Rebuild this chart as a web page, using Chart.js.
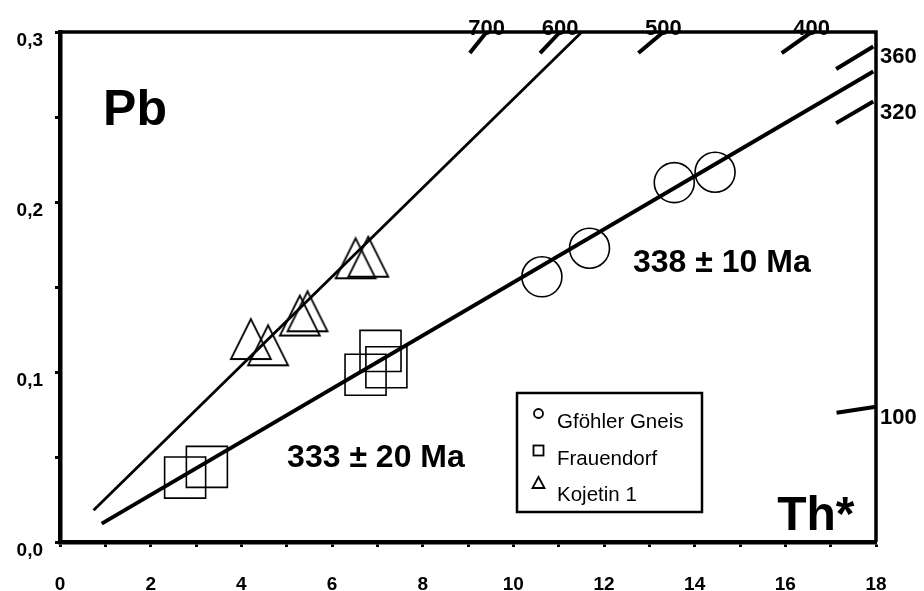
<!DOCTYPE html>
<html>
<head>
<meta charset="utf-8">
<script src="https://cdn.jsdelivr.net/npm/chart.js@4.4.1/dist/chart.umd.min.js"></script>
<style>
    body { margin: 0; background: #fff; }
</style>
</head>
<body>
<canvas id="pb-th-chart" width="924" height="591"></canvas>
<script>
// sample names and measured points (Th* vs Pb)
const seriesNames = ['Gföhler Gneis', 'Frauendorf', 'Kojetin 1'];
const gfohlerX = [10.63, 11.68, 13.55, 14.45];
const gfohlerY = [0.156, 0.1728, 0.2114, 0.2175];
const frauendorfX = [2.76, 3.24, 6.74, 7.07, 7.20];
const frauendorfY = [0.0379, 0.0442, 0.0984, 0.1124, 0.1028];
const kojetinX = [4.21, 4.59, 5.29, 5.46, 6.52, 6.80];
const kojetinY = [0.1194, 0.1157, 0.1332, 0.1357, 0.1669, 0.1678];

// isochron lines (end points)
const isoUpperX = [0.74, 11.51];
const isoUpperY = [0.0187, 0.3];
const isoLowerX = [0.92, 17.94];
const isoLowerY = [0.0108, 0.2768];
const isoLabels = ['333 ± 20 Ma', '338 ± 10 Ma'];

// age reference ticks on the frame
const ageLabels = ['700', '600', '500', '400', '360', '320', '100'];
const ageX0 = [9.04, 10.59, 12.76, 15.92, 17.12, 17.12, 17.13];
const ageY0 = [0.2876, 0.2876, 0.2876, 0.2876, 0.2782, 0.2464, 0.0760];
const ageX1 = [9.41, 11.03, 13.31, 16.58, 17.94, 17.94, 18];
const ageY1 = [0.3, 0.3, 0.3, 0.3, 0.2915, 0.2591, 0.0795];

const xTickLabels = ['0', '2', '4', '6', '8', '10', '12', '14', '16', '18'];
const yTickLabels = ['0,0', '0,1', '0,2', '0,3'];

function pts(xs, ys) {
    return xs.map((x, i) => ({x: x, y: ys[i]}));
}

// open triangle marker, a bit taller than the built-in one
function makeTriangle(size, lw) {
    const c = document.createElement('canvas');
    c.width = size + 4;
    c.height = size + 4;
    const g = c.getContext('2d');
    g.strokeStyle = '#000';
    g.lineWidth = lw;
    g.lineJoin = 'miter';
    g.beginPath();
    g.moveTo(c.width / 2, 2);
    g.lineTo(2, size + 2);
    g.lineTo(size + 2, size + 2);
    g.closePath();
    g.stroke();
    return c;
}
const triMarker = makeTriangle(40, 1.8);

const datasets = [
    {
        label: seriesNames[0],
        data: pts(gfohlerX, gfohlerY),
        pointStyle: 'circle',
        pointRadius: 20,
        pointBorderWidth: 1.6,
        borderColor: '#000',
        backgroundColor: 'rgba(0,0,0,0)'
    },
    {
        label: seriesNames[1],
        data: pts(frauendorfX, frauendorfY),
        pointStyle: 'rect',
        pointRadius: 29,
        pointBorderWidth: 1.6,
        borderColor: '#000',
        backgroundColor: 'rgba(0,0,0,0)'
    },
    {
        label: seriesNames[2],
        data: pts(kojetinX, kojetinY),
        pointStyle: triMarker,
        pointRadius: 22,
        borderColor: '#000',
        backgroundColor: 'rgba(0,0,0,0)'
    },
    {
        label: 'iso-upper',
        data: pts(isoUpperX, isoUpperY),
        showLine: true,
        pointRadius: 0,
        borderColor: '#000',
        borderWidth: 2.8
    },
    {
        label: 'iso-lower',
        data: pts(isoLowerX, isoLowerY),
        showLine: true,
        pointRadius: 0,
        borderColor: '#000',
        borderWidth: 4
    }
];

for (let i = 0; i < ageLabels.length; i++) {
    datasets.push({
        label: 'age-' + ageLabels[i],
        data: [{x: ageX0[i], y: ageY0[i]}, {x: ageX1[i], y: ageY1[i]}],
        showLine: true,
        pointRadius: 0,
        borderColor: '#000',
        borderWidth: 4,
        clip: 6
    });
}

const textPlugin = {
    id: 'textPlugin',
    afterDatasetsDraw(chart) {
        const ctx = chart.ctx;
        const area = chart.chartArea;
        const xs = chart.scales.x;
        const ys = chart.scales.y;
        ctx.save();

        // top and right frame
        ctx.strokeStyle = '#000';
        ctx.lineWidth = 3.5;
        ctx.beginPath();
        ctx.moveTo(area.left, area.top);
        ctx.lineTo(area.right, area.top);
        ctx.lineTo(area.right, area.bottom);
        ctx.stroke();

        ctx.fillStyle = '#000';
        const fam = '"Liberation Sans", Arial, sans-serif';

        // age labels at the tick ends
        ctx.font = 'bold 22px ' + fam;
        for (let i = 0; i < ageLabels.length; i++) {
            const px = xs.getPixelForValue(ageX1[i]);
            const py = ys.getPixelForValue(ageY1[i]);
            if (ageY1[i] >= 0.3) {
                ctx.textAlign = 'center';
                ctx.textBaseline = 'alphabetic';
                ctx.fillText(ageLabels[i], px, py + 3);
            } else {
                ctx.textAlign = 'left';
                ctx.textBaseline = 'alphabetic';
                ctx.fillText(ageLabels[i], area.right + 4, py + 17);
            }
        }

        // axis names and isochron ages
        ctx.textAlign = 'left';
        ctx.textBaseline = 'alphabetic';
        ctx.font = 'bold 50px ' + fam;
        ctx.fillText('Pb', xs.getPixelForValue(0.95), ys.getPixelForValue(0.2454));
        ctx.font = 'bold 48px ' + fam;
        ctx.fillText('Th*', xs.getPixelForValue(15.82), ys.getPixelForValue(0.0069));
        ctx.font = 'bold 32px ' + fam;
        ctx.fillText(isoLabels[0], xs.getPixelForValue(5.01), ys.getPixelForValue(0.044));
        ctx.fillText(isoLabels[1], xs.getPixelForValue(12.64), ys.getPixelForValue(0.1588));

        // legend box
        const lx = 517, ly = 393, lw = 185, lh = 119;
        ctx.lineWidth = 2.5;
        ctx.strokeRect(lx, ly, lw, lh);
        ctx.lineWidth = 1.8;
        const sx = 538.5;
        ctx.beginPath();
        ctx.arc(sx, 413.5, 4.5, 0, Math.PI * 2);
        ctx.stroke();
        ctx.strokeRect(sx - 5, 445.5, 10, 10);
        ctx.beginPath();
        ctx.moveTo(sx, 477);
        ctx.lineTo(sx - 6, 488);
        ctx.lineTo(sx + 6, 488);
        ctx.closePath();
        ctx.stroke();

        ctx.font = '20.5px ' + fam;
        ctx.fillText(seriesNames[0], 557, 428);
        ctx.fillText(seriesNames[1], 557, 465);
        ctx.fillText(seriesNames[2], 557, 501);
        ctx.restore();
    }
};

const config = {
    type: 'scatter',
    data: {datasets: datasets},
    options: {
        responsive: false,
        animation: false,
        events: [],
        layout: {padding: {top: 32, right: 48, left: 0, bottom: 0}},
        plugins: {
            legend: {display: false},
            tooltip: {enabled: false}
        },
        scales: {
            x: {
                type: 'linear',
                min: 0,
                max: 18,
                afterFit: (scale) => { scale.height = 49; },
                border: {display: true, color: '#000', width: 4.5},
                grid: {drawOnChartArea: false, drawTicks: true, tickLength: 5, tickWidth: 3, tickColor: '#000'},
                ticks: {
                    stepSize: 1,
                    padding: 26,
                    color: '#000',
                    font: {family: '"Liberation Sans", Arial, sans-serif', size: 19, weight: 'bold'},
                    callback: (v) => (v % 2 === 0 ? xTickLabels[v / 2] : '')
                }
            },
            y: {
                type: 'linear',
                min: 0,
                max: 0.3,
                afterFit: (scale) => { scale.width = 60; },
                border: {display: true, color: '#000', width: 4.5},
                grid: {drawOnChartArea: false, drawTicks: true, tickLength: 5, tickWidth: 3, tickColor: '#000'},
                ticks: {
                    stepSize: 0.05,
                    padding: 12,
                    labelOffset: 9,
                    color: '#000',
                    font: {family: '"Liberation Sans", Arial, sans-serif', size: 19, weight: 'bold'},
                    callback: (v) => {
                        const k = Math.round(v * 100);
                        return k % 10 === 0 ? yTickLabels[k / 10] : '';
                    }
                }
            }
        }
    },
    plugins: [textPlugin]
};

const chart_canvas = document.getElementById('pb-th-chart');
const pb_chart = new Chart(chart_canvas, config);
</script>
</body>
</html>
